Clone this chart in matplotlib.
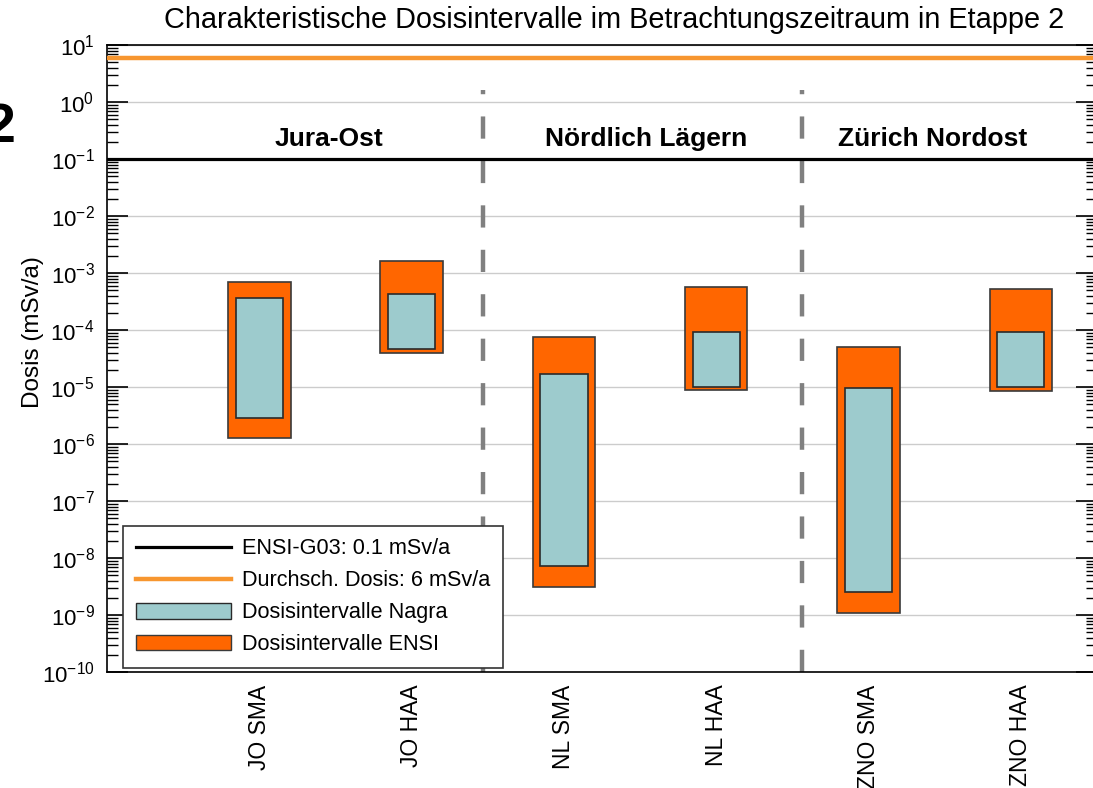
import matplotlib
matplotlib.use("Agg")
import matplotlib.pyplot as plt
from matplotlib.lines import Line2D
from matplotlib.patches import Patch
from matplotlib.ticker import LogLocator, NullFormatter
import numpy as np

plt.rcParams['font.family'] = ['Liberation Sans', 'DejaVu Sans']
plt.rcParams['axes.unicode_minus'] = False

categories = ["JO SMA", "JO HAA", "NL SMA", "NL HAA", "ZNO SMA", "ZNO HAA"]
ensi_low = [1.27e-6, 3.9e-5, 3.1e-9, 8.7e-6, 1.1e-9, 8.5e-6]
ensi_high = [7.0e-4, 1.6e-3, 7.6e-5, 5.7e-4, 5.1e-5, 5.2e-4]
nagra_low = [2.9e-6, 4.7e-5, 7.3e-9, 1.0e-5, 2.5e-9, 1.0e-5]
nagra_high = [3.6e-4, 4.2e-4, 1.7e-5, 9.2e-5, 9.6e-6, 9.3e-5]
regions = ["Jura-Ost", "Nördlich Lägern", "Zürich Nordost"]
region_pos = [1.46, 3.54, 5.42]
separators = [2.47, 4.56]
limit_ensi = 0.1
avg_dose = 6.0

fig = plt.figure(figsize=(10.93, 7.88), dpi=100)
ax = fig.add_axes([107/1093, 1-672/788, 990/1093, 627/788])

x = np.arange(1, len(categories) + 1)
eh = np.array(ensi_high); el = np.array(ensi_low)
nh = np.array(nagra_high); nl = np.array(nagra_low)

ax.set_yscale('log')
ax.set_ylim(1e-10, 1e1)
ax.set_xlim(0, 6.5)

# grid
for e in range(-10, 2):
    ax.axhline(10.0**e, color='#cccccc', lw=1.0, zorder=0)

ax.bar(x, eh - el, bottom=el, width=0.41, color='#FF6600', edgecolor='#3a3a3a', lw=1.2, zorder=2)
ax.bar(x, nh - nl, bottom=nl, width=0.31, color='#9DCBCD', edgecolor='#2a2a2a', lw=1.2, zorder=3)

ax.axhline(limit_ensi, color='black', lw=2.3, zorder=4)
ax.axhline(avg_dose, color='#F7962F', lw=3.2, zorder=4)

for s in separators:
    ax.plot([s, s], [1e-10, 1.6], color='#808080', lw=3.2, dashes=(5, 5), zorder=1)

for r, p in zip(regions, region_pos):
    ax.text(p, 0.22, r, ha='center', va='center', fontsize=19, fontweight='bold')

ax.set_xticks(x)
ax.set_xticklabels(categories, rotation=90, fontsize=16.5)
ax.tick_params(axis='x', length=0, pad=9)

ax.yaxis.set_major_locator(LogLocator(base=10, numticks=20))
ax.yaxis.set_minor_locator(LogLocator(base=10, subs=np.arange(2, 10), numticks=20))
ax.yaxis.set_minor_formatter(NullFormatter())
ax.tick_params(axis='y', which='major', direction='in', length=15, width=1.2, labelsize=16, right=True, pad=9)
ax.tick_params(axis='y', which='minor', direction='in', length=8, width=1.0, right=True)
ax.set_ylabel('Dosis (mSv/a)', fontsize=17.5)
ax.yaxis.set_label_coords(-0.064, 0.542)

for sp in ax.spines.values():
    sp.set_linewidth(1.2)

handles = [
    Line2D([0], [0], color='black', lw=2.3),
    Line2D([0], [0], color='#F7962F', lw=3.2),
    Patch(facecolor='#9DCBCD', edgecolor='#2a2a2a'),
    Patch(facecolor='#FF6600', edgecolor='#3a3a3a'),
]
labels = ['ENSI-G03: 0.1 mSv/a', 'Durchsch. Dosis: 6 mSv/a',
          'Dosisintervalle Nagra', 'Dosisintervalle ENSI']
leg = ax.legend(handles, labels, loc='lower left', bbox_to_anchor=(16/990, 4/627),
                borderaxespad=0, fontsize=15.6, handlelength=4.4, handleheight=0.75,
                fancybox=False, framealpha=1, edgecolor='#333333', labelspacing=0.5,
                borderpad=0.6, handletextpad=0.5)
leg.get_frame().set_linewidth(1.2)
leg.set_zorder(6)

fig.text(614/1093, 1-20/788, 'Charakteristische Dosisintervalle im Betrachtungszeitraum in Etappe 2',
         ha='center', va='center', fontsize=20.8)
fig.text(15/1093, 1-128/788, '2', ha='right', va='center', fontsize=40, fontweight='bold')

fig.savefig('out.png', dpi=100)
